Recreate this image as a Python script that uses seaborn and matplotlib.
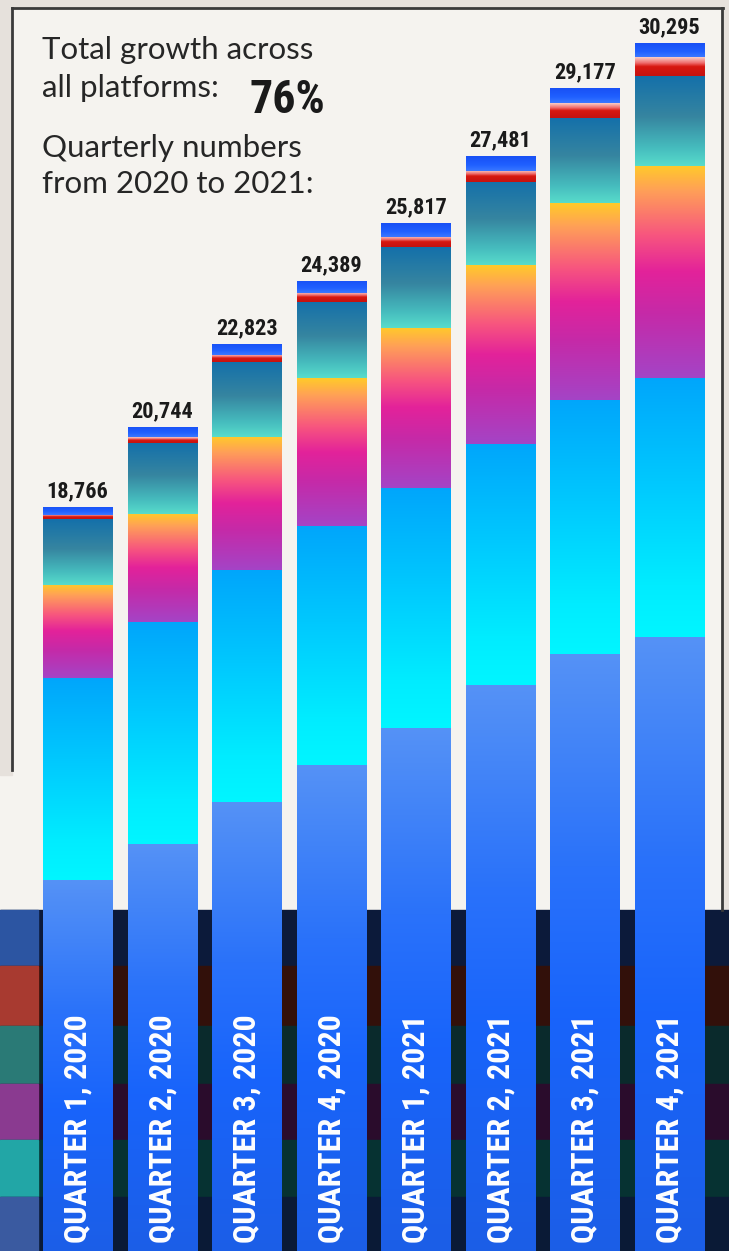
import numpy as np
import matplotlib
matplotlib.use('Agg')
import matplotlib.pyplot as plt
import seaborn as sns
from matplotlib.colors import LinearSegmentedColormap
from matplotlib.patches import Rectangle
from matplotlib import font_manager as fm

# data (bottom segment first)
quarters = ['QUARTER 1, 2020', 'QUARTER 2, 2020', 'QUARTER 3, 2020', 'QUARTER 4, 2020',
            'QUARTER 1, 2021', 'QUARTER 2, 2021', 'QUARTER 3, 2021', 'QUARTER 4, 2021']
totals = [18766, 20744, 22823, 24389, 25817, 27481, 29177, 30295]
seg_blue = [9478, 10376, 11427, 12347, 13267, 14319, 15102, 15517]
seg_cyan = [5018, 5516, 5772, 5946, 5971, 6006, 6330, 6451]
seg_sunset = [2314, 2695, 3309, 3665, 3981, 4444, 4884, 5282]
seg_teal = [1642, 1759, 1854, 1891, 2008, 2065, 2132, 2232]
seg_red = [107, 149, 187, 224, 249, 291, 373, 465]
seg_top = [207, 249, 274, 316, 341, 356, 356, 348]

segments = [seg_blue, seg_cyan, seg_sunset, seg_teal, seg_red, seg_top]
# gradients, listed top -> bottom of each segment
gradients = [
    [(0, '#5592f6'), (0.35, '#2a72fa'), (0.6, '#1864fb'), (1, '#1c5ee6')],
    [(0, '#00a6fb'), (0.4, '#00c8fe'), (0.8, '#00ecff'), (1, '#00f6ff')],
    [(0, '#ffca2a'), (0.12, '#ff9f58'), (0.33, '#f7557f'), (0.5, '#e3229a'),
     (0.7, '#c52aa8'), (1, '#a444c6')],
    [(0, '#1470aa'), (0.45, '#3685a0'), (0.8, '#46bcbe'), (1, '#58dccb')],
    [(0, '#f8d0c8'), (0.3, '#f07070'), (0.5, '#d81810'), (1, '#c41210')],
    [(0, '#1850f5'), (0.6, '#2060ff'), (1, '#3a78ff')],
]

W, H = 729, 1251
unit_px = 0.040194   # pixels per unit
base_px = 1261       # pixel row of zero

avail = {f.name for f in fm.fontManager.ttflist}
narrow = next((n for n in ['Roboto Condensed', 'Liberation Sans Narrow', 'Open Sans Condensed',
                           'DejaVu Sans Condensed'] if n in avail), 'DejaVu Sans')
body = 'Lato' if 'Lato' in avail else 'DejaVu Sans'

fig = plt.figure(figsize=(W / 100, H / 100), dpi=100)

# background / frame in pixel coordinates
bg = fig.add_axes([0, 0, 1, 1])
bg.set_xlim(0, W)
bg.set_ylim(H, 0)
bg.axis('off')
bg.add_patch(Rectangle((0, 0), W, H, color='#f5f3ef'))
bg.add_patch(Rectangle((0, 0), W, 7, color='#e6e1dc'))
bg.add_patch(Rectangle((0, 0), 12, 775, color='#e6e1dc'))
bg.add_patch(Rectangle((723, 0), 6, 910, color='#e6e1dc'))
bg.plot([12, 723], [8, 8], color='#3a3a3a', lw=2)
bg.plot([12.5, 12.5], [8, 770], color='#3a3a3a', lw=2)
bg.plot([722.5, 722.5], [8, 910], color='#3a3a3a', lw=2)

stripes = [(910, 966, '#0c1a3a', '#2c55a2'), (966, 1026, '#32100a', '#a83a30'),
           (1026, 1084, '#0a2a2c', '#2a7a76'), (1084, 1140, '#2a0c2c', '#8a3a90'),
           (1140, 1197, '#063232', '#22a6a6'), (1197, H, '#0a1a36', '#3a5aa0')]
for y0, y1, dark, bright in stripes:
    bg.add_patch(Rectangle((0, y0), W, y1 - y0, color=dark))
    bg.add_patch(Rectangle((0, y0), 38, y1 - y0, color=bright))

txt = dict(fontsize=22.5, family=body, color='#262626', va='baseline')
bg.text(42, 59, 'Total growth across', **txt)
bg.text(42, 97, 'all platforms:', **txt)
bg.text(42, 157, 'Quarterly numbers', **txt)
bg.text(42, 193, 'from 2020 to 2021:', **txt)
bg.text(250, 113, '76%', fontsize=33, family=narrow, fontweight='bold', color='#1a1a1a', va='baseline')

# the bar chart
ax = fig.add_axes([0, 0, 1, 1], zorder=2)
ax.patch.set_alpha(0)
cum = np.cumsum(np.array(segments), axis=0)
for k in reversed(range(len(segments))):
    cmap = LinearSegmentedColormap.from_list(f'seg{k}', gradients[k])
    sns.barplot(x=quarters, y=cum[k], color=cmap(0.5), width=0.816, saturation=1,
                errorbar=None, ax=ax)
    grad = np.linspace(0, 1, 256).reshape(-1, 1)
    for i, p in enumerate(ax.containers[-1]):
        lower = cum[k - 1][i] if k > 0 else 0
        im = ax.imshow(grad, cmap=cmap, aspect='auto', origin='upper', interpolation='bilinear',
                       extent=[p.get_x(), p.get_x() + p.get_width(), lower, cum[k][i]], zorder=3)
        im.set_clip_path(p)

for i, t in enumerate(totals):
    ax.annotate(f'{t:,}', (i, t), xytext=(0, 7), textcoords='offset points', ha='center',
                va='baseline', fontsize=16, family=narrow, fontweight='bold', color='#1a1a1a', zorder=5)
    ax.text(i, (base_px - 1243) / unit_px, quarters[i], rotation=90, ha='center', va='bottom',
            fontsize=23, family=narrow, fontweight='bold', color='white', zorder=5)

ax.set_xlim(-77.5 / 84.57, (W - 77.5) / 84.57)
ax.set_ylim((base_px - H) / unit_px, base_px / unit_px)
ax.axis('off')

fig.savefig('out.png', dpi=100)
